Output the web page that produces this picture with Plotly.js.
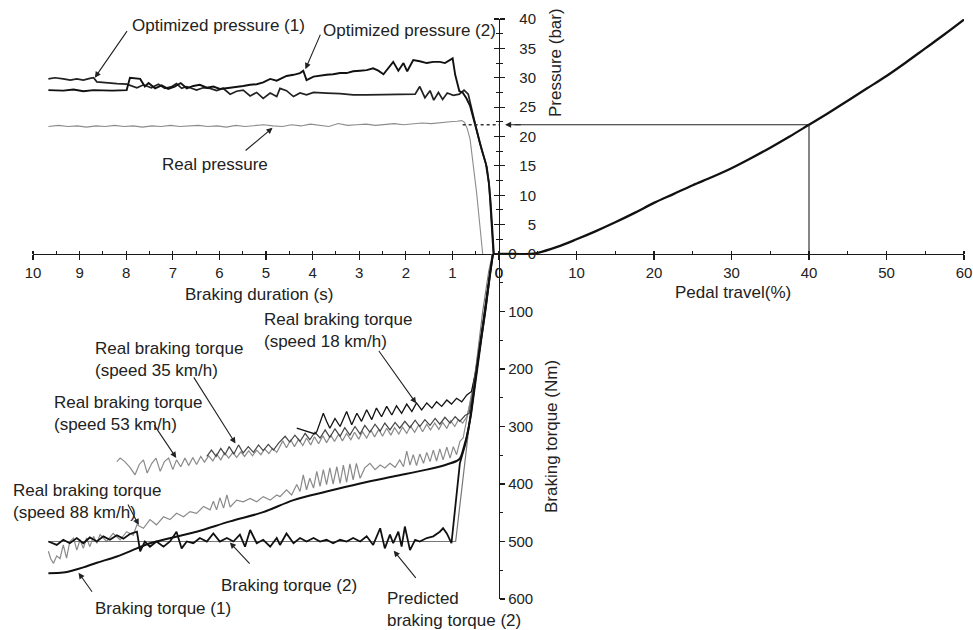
<!DOCTYPE html>
<html>
<head>
<meta charset="utf-8">
<script src="https://cdn.plot.ly/plotly-3.0.1.min.js"></script>
<style>html,body{margin:0;padding:0;background:#fff;}#chart{width:973px;height:630px;}</style>
</head>
<body>
<div id="chart"></div>
<script>
// ---------- DATA ----------
// Upper-left panel: pressure (bar) vs braking duration (s)
const optP1_t = [9.67,9.53,9.35,9.2,9.06,8.92,8.78,8.7,8.63,8.42,8.2,7.99,7.77,7.63,7.46,7.31,7.17,7.02,6.92,6.81,6.7,6.49,6.35,6.2,6.06,5.92,5.77,5.63,5.49,5.34,5.2,5.06,4.91,4.77,4.70,4.56,4.41,4.27,4.13,3.98,3.84,3.70,3.41,3.13,2.84,2.55,2.27,1.98,1.80,1.70,1.59,1.48,1.40,1.30,1.21,1.11,0.98,0.85,0.75,0.66,0.59,0.50,0.41,0.33,0.26,0.21,0.18,0.15,0.12];
const optP1_p = [29.8,30.0,29.8,29.6,29.8,29.6,29.9,30.0,29.3,29.1,29.0,28.9,28.3,28.8,28.3,28.9,28.2,28.5,29.0,28.2,28.5,27.9,28.3,28.2,27.8,28.2,27.2,27.7,27.9,26.9,27.5,26.5,27.4,26.8,28.2,27.8,26.8,27.4,27.1,27.5,27.4,27.4,27.3,27.1,27.1,27.1,27.1,27.1,27.2,28.5,26.6,27.8,26.2,27.5,26.3,27.4,27.0,27.2,27.9,27.2,24.6,21.8,18.8,16.8,14.8,11.5,8.0,4.5,0];
const optP2_t = [9.67,9.35,9.13,8.92,8.7,8.3,7.99,7.92,7.7,7.6,7.52,7.38,7.24,7.1,6.96,6.83,6.7,6.56,6.42,6.27,6.13,5.99,5.77,5.63,5.49,5.34,5.2,5.06,4.91,4.77,4.70,4.56,4.41,4.27,4.2,4.13,3.98,3.84,3.70,3.56,3.41,3.27,3.13,2.98,2.84,2.70,2.59,2.48,2.38,2.27,2.16,2.05,1.97,1.84,1.70,1.55,1.41,1.27,1.16,1.05,0.995,0.94,0.85,0.78,0.70,0.62,0.54,0.45,0.36,0.28,0.22,0.18,0.15,0.13,0.11];
const optP2_p = [27.9,27.8,28.0,27.7,27.9,27.8,27.9,30.0,29.8,28.5,29.1,28.2,28.7,28.1,28.5,29.1,28.2,28.6,28.8,28.3,28.5,28.1,28.3,28.4,28.6,28.8,28.9,29.2,29.8,29.5,29.8,30.3,30.5,30.8,31.2,29.6,30.2,30.4,30.5,30.6,30.8,30.8,31.1,31.2,31.3,31.6,31.2,30.6,31.7,32.7,31.2,32.5,31.1,33.0,32.8,32.5,32.7,32.7,32.5,33.0,33.3,30.5,27.7,27.5,26.5,25.2,22.8,19.8,17.5,15.3,12.3,8.8,5.0,2.0,0];
const realP_t = [9.67,9.45,9.25,9.05,8.85,8.65,8.45,8.25,8.05,7.85,7.65,7.45,7.25,7.05,6.85,6.65,6.45,6.25,6.05,5.85,5.65,5.45,5.25,5.05,4.85,4.65,4.45,4.25,4.05,3.85,3.65,3.45,3.25,3.05,2.85,2.65,2.45,2.25,2.05,1.85,1.65,1.45,1.25,1.05,0.9,0.8,0.74,0.68,0.62,0.56,0.48,0.41,0.35];
const realP_p = [21.7,21.9,21.7,21.8,21.6,21.8,21.7,21.9,21.7,21.8,21.6,21.8,21.7,21.9,21.7,21.8,21.9,21.7,21.8,21.6,21.9,21.7,21.8,22.0,21.8,21.7,22.0,21.8,22.1,21.9,21.7,22.2,21.9,22.0,22.1,21.9,22.1,22.2,22.0,22.2,22.3,22.2,22.4,22.5,22.6,22.7,22.4,21.3,19.5,16.0,10.4,4.8,0];
const dot_t = [0.78, 0];
const dot_p = [22, 22];

// Right panel: pressure (bar) vs pedal travel (%)
const pedal_x = [0,2,4,5,7.5,10,12.5,15,17.5,20,22.5,25,27.5,30,32.5,35,37.5,40,42.5,45,47.5,50,52.5,55,57.5,60];
const pedal_p = [0,0,0,0.2,1.2,2.5,3.9,5.4,7.0,8.7,10.2,11.7,13.1,14.6,16.3,18.1,20.0,22.0,24.0,26.1,28.2,30.3,32.6,35.0,37.4,39.9];
const refH_x = [2, 40];
const refH_p = [22, 22];
const refV_x = [40, 40];
const refV_p = [22, 0];

// Lower panel: braking torque (Nm) vs braking duration (s)
const r88_t = [9.67,9.62,9.56,9.49,9.42,9.35,9.28,9.21,9.13,9.06,8.99,8.92,8.85,8.78,8.70,8.63,8.56,8.42,8.28,8.13,7.99,7.85,7.77,7.63,7.49,7.35,7.20,7.06,6.92,6.77,6.63,6.49,6.34,6.20,6.13,6.06,5.99,5.91,5.84,5.77,5.63,5.49,5.34,5.20,5.06,4.91,4.77,4.70,4.56,4.45,4.34,4.27,4.20,4.13,4.06,3.98,3.91,3.84,3.77,3.70,3.63,3.56,3.48,3.41,3.34,3.27,3.20,3.13,3.06,2.98,2.88,2.77,2.66,2.55,2.45,2.34,2.23,2.13,2.05,1.98,1.91,1.84,1.77,1.70,1.62,1.55,1.48,1.41,1.34,1.27,1.20,1.12,1.05,0.98,0.91,0.84,0.77,0.68,0.58,0.48,0.38,0.28,0.20,0.14];
const r88_T = [517,530,538,525,530,506,529,500,494,515,497,512,494,509,491,503,488,500,486,497,483,489,471,477,462,471,457,462,451,457,448,451,439,445,430,445,424,442,419,440,428,431,425,431,422,428,419,422,410,419,401,413,384,410,390,407,378,404,375,401,372,400,370,399,367,397,365,393,364,390,372,364,375,367,372,364,371,358,370,343,367,349,368,348,364,345,361,341,360,339,358,336,355,335,349,326,320,285,240,190,135,80,35,0];
const r53_t = [8.20,8.13,8.03,7.92,7.81,7.72,7.63,7.55,7.45,7.36,7.27,7.18,7.09,7.00,6.92,6.83,6.74,6.66,6.57,6.49,6.40,6.32,6.23,6.14,6.06,5.97,5.89,5.80,5.71,5.63,5.54,5.46,5.37,5.29,5.20,5.11,5.03,4.94,4.86,4.77,4.73,4.64,4.56,4.47,4.39,4.30,4.21,4.13,4.04,3.96,3.87,3.78,3.70,3.61,3.53,3.44,3.36,3.27,3.18,3.10,3.01,2.93,2.84,2.75,2.67,2.58,2.50,2.41,2.32,2.24,2.15,2.07,1.98,1.90,1.81,1.72,1.64,1.55,1.47,1.38,1.29,1.21,1.12,1.04,0.95,0.87,0.78,0.69,0.62,0.55,0.46,0.37,0.28,0.20,0.14];
const r53_T = [361,355,361,371,384,366,358,381,364,355,378,361,355,375,358,370,355,368,354,366,352,362,351,360,348,358,346,355,345,354,344,352,342,351,341,349,339,347,338,345,339,325,337,323,335,322,333,320,332,318,330,316,328,315,326,313,325,312,323,310,322,309,320,306,318,305,317,303,315,302,313,301,312,299,310,297,309,296,306,294,305,293,303,290,300,288,294,283,260,230,185,135,85,40,0];
const r35_t = [6.27,6.17,6.07,5.97,5.88,5.79,5.69,5.59,5.49,5.38,5.27,5.16,5.06,4.95,4.84,4.73,4.59,4.49,4.38,4.27,4.16,4.06,3.95,3.84,3.73,3.63,3.52,3.41,3.31,3.20,3.09,2.98,2.88,2.77,2.66,2.55,2.45,2.34,2.23,2.13,2.02,1.91,1.80,1.70,1.59,1.48,1.37,1.27,1.16,1.05,0.94,0.84,0.73,0.64,0.58,0.50,0.42,0.34,0.26,0.19,0.13];
const r35_T = [352,341,352,338,349,335,348,332,346,335,345,332,342,331,341,329,317,327,315,326,312,323,310,320,306,319,304,317,302,315,300,313,298,310,296,308,294,306,293,303,291,302,289,300,288,298,286,296,284,294,283,291,281,277,250,215,170,120,70,30,0];
const r18_t = [4.34,3.95,3.91,3.77,3.70,3.63,3.52,3.41,3.27,3.16,3.05,2.95,2.84,2.73,2.63,2.52,2.41,2.30,2.20,2.09,1.98,1.87,1.77,1.66,1.55,1.44,1.34,1.23,1.12,1.02,0.91,0.80,0.69,0.59,0.50,0.42,0.34,0.26,0.19,0.13];
const r18_T = [303,313,309,277,291,303,286,300,274,297,277,291,271,288,268,283,265,280,264,277,261,274,259,271,259,268,257,265,254,261,251,257,245,239,205,165,118,70,30,0];
const bt1_t = [9.67,9.35,9.13,8.92,8.63,8.2,7.77,7.49,7.2,6.49,5.77,5.06,4.41,3.70,2.98,2.27,1.55,1.12,0.91,0.84,0.75,0.66,0.51,0.41,0.30,0.19,0.13];
const bt1_T = [555,554,550,545,537,526,512,503,497,483,465,449,428,413,399,387,375,366,360,356,335,306,219,161,103,33,0];
const bt2_t = [9.67,0.93,0.48,0.35,0.22,0.14];
const bt2_T = [500,500,187,100,30,0];
const pred_t = [9.67,9.49,9.35,9.21,9.06,8.92,8.78,8.63,8.49,8.35,8.20,8.06,7.92,7.77,7.70,7.60,7.49,7.35,7.20,7.06,6.92,6.81,6.70,6.56,6.42,6.27,6.13,5.99,5.84,5.70,5.56,5.45,5.34,5.20,5.06,4.91,4.77,4.70,4.56,4.41,4.27,4.13,3.98,3.84,3.70,3.56,3.41,3.27,3.13,2.98,2.84,2.70,2.55,2.45,2.34,2.27,2.16,2.09,2.02,1.91,1.80,1.70,1.55,1.41,1.27,1.20,1.12,1.02,0.84,0.72,0.60,0.50,0.40,0.30,0.20,0.13];
const pred_T = [500,506,497,503,494,503,493,500,491,497,489,495,487,483,517,500,509,500,509,500,483,512,500,503,494,500,486,500,494,500,488,509,480,503,497,509,494,506,486,503,494,500,494,500,497,503,497,500,494,500,491,506,477,512,488,503,483,509,474,515,497,500,494,491,483,477,486,503,364,330,280,220,160,100,40,0];

// Axis texts
const durationTitle = 'Braking duration (s)';
const pedalTitle = 'Pedal travel(%)';
const pressureTitle = 'Pressure (bar)';
const torqueTitle = 'Braking torque (Nm)';

// ---------- CHART ----------
const FONT = '"Liberation Sans", Arial, sans-serif';
const INK = '#1a1a1a';
const W = 973, H = 630;
const px = v => v / W;
const py = v => 1 - v / H;

function line(x, y, xa, ya, color, width, dash, shape) {
  return {x: x, y: y, xaxis: xa, yaxis: ya, type: 'scatter', mode: 'lines',
          line: {color: color, width: width, dash: dash || 'solid', shape: shape || 'linear'},
          hoverinfo: 'skip', showlegend: false};
}
// empty carrier traces so that the two helper pressure axes get drawn
function carrier(ya) {
  return {x: [], y: [], xaxis: 'x2', yaxis: ya, type: 'scatter', mode: 'lines',
          hoverinfo: 'skip', showlegend: false};
}

const traces = [
  carrier('y3'), carrier('y4'),
  line(realP_t, realP_p, 'x', 'y', '#8c8c8c', 1.1),
  line(optP1_t, optP1_p, 'x', 'y', '#222', 1.7),
  line(optP2_t, optP2_p, 'x', 'y', '#111', 1.9),
  line(dot_t, dot_p, 'x', 'y', '#333', 1.3, 'dot'),
  line(pedal_x, pedal_p, 'x2', 'y', '#111', 2.3, 'solid', 'spline'),
  line(refH_x, refH_p, 'x2', 'y', '#222', 1.1),
  line(refV_x, refV_p, 'x2', 'y', '#222', 1.1),
  line(r88_t, r88_T, 'x', 'y2', '#8a8a8a', 1.2),
  line(r53_t, r53_T, 'x', 'y2', '#8a8a8a', 1.2),
  line(r35_t, r35_T, 'x', 'y2', '#444', 1.2),
  line(r18_t, r18_T, 'x', 'y2', '#111', 1.3),
  line(bt2_t, bt2_T, 'x', 'y2', '#777', 1.2),
  line(bt1_t, bt1_T, 'x', 'y2', '#111', 2.0, 'solid', 'spline'),
  line(pred_t, pred_T, 'x', 'y2', '#111', 1.8)
];

const tickFont = {family: FONT, size: 15, color: '#222'};
const axBase = {showgrid: false, zeroline: false, showline: true, linecolor: INK, linewidth: 1.2,
  ticks: 'outside', ticklen: 5, tickwidth: 1.1, tickcolor: INK, tickfont: tickFont, fixedrange: true};

const labelFont = {family: FONT, size: 17, color: '#222'};
function txt(text, x, y, opts) {
  return Object.assign({text: text, x: px(x), y: py(y), xref: 'paper', yref: 'paper',
    showarrow: false, font: labelFont, xanchor: 'center', yanchor: 'middle'}, opts || {});
}
function arr(xr, yr, tipX, tipY, tailX, tailY) {
  return {text: '', x: tipX, y: tipY, xref: xr, yref: yr, axref: xr, ayref: yr,
    ax: tailX, ay: tailY, showarrow: true, arrowhead: 2, arrowsize: 1.1, arrowwidth: 1.1,
    arrowcolor: '#222', standoff: 3};
}

const annotations = [
  txt('Optimized pressure (1)', 218, 26),
  txt('Optimized pressure (2)', 409, 30),
  txt('Real pressure', 215, 165),
  txt(durationTitle, 259, 294),
  txt(pedalTitle, 733, 292),
  txt(pressureTitle, 556, 63, {textangle: -90}),
  txt(torqueTitle, 551, 437, {textangle: -90}),
  txt('Real braking torque<br>(speed 18 km/h)', 262, 330, {xanchor: 'left', align: 'left'}),
  txt('Real braking torque<br>(speed 35 km/h)', 93, 359, {xanchor: 'left', align: 'left'}),
  txt('Real braking torque<br>(speed 53 km/h)', 52, 413, {xanchor: 'left', align: 'left'}),
  txt('Real braking torque<br>(speed 88 km/h)', 11, 502, {xanchor: 'left', align: 'left'}),
  txt('Braking torque (2)', 289, 585),
  txt('Braking torque (1)', 163, 608),
  txt('Predicted<br>braking torque (2)', 385, 609, {xanchor: 'left', align: 'left'}),
  arr('x', 'y', 8.71, 29.6, 7.96, 38.2),
  arr('x', 'y', 4.18, 31.0, 3.82, 37.6),
  arr('x', 'y', 4.81, 21.8, 5.47, 17.4),
  arr('x2', 'y', 0.4, 22, 3.0, 22),
  arr('x', 'y2', 1.74, 264, 2.60, 166),
  arr('x', 'y2', 5.62, 334, 6.57, 212),
  arr('x', 'y2', 6.89, 359, 7.42, 295),
  arr('x', 'y2', 7.70, 476, 7.98, 433),
  arr('x', 'y2', 5.82, 498, 5.32, 541),
  arr('x', 'y2', 9.06, 550, 8.71, 590),
  arr('x', 'y2', 2.30, 512, 1.76, 566)
];

const layout = {
  width: W, height: H,
  margin: {l: 0, r: 0, t: 0, b: 0, pad: 0},
  paper_bgcolor: '#fff', plot_bgcolor: 'rgba(0,0,0,0)',
  showlegend: false,
  font: {family: FONT, color: '#222'},
  xaxis: Object.assign({}, axBase, {domain: [px(33), px(499)], range: [10, 0], anchor: 'y',
    dtick: 1, tick0: 0, minor: {dtick: 0.5, ticks: 'inside', ticklen: 3, tickcolor: INK}}),
  xaxis2: Object.assign({}, axBase, {domain: [px(499), px(964)], range: [0, 60], anchor: 'y',
    dtick: 10, tick0: 0, minor: {dtick: 5, ticks: 'inside', ticklen: 3, tickcolor: INK}}),
  yaxis: Object.assign({}, axBase, {domain: [py(254), py(19)], range: [0, 40], anchor: 'free',
    position: px(499), side: 'right', dtick: 5, showticklabels: false,
    minor: {dtick: 2.5, ticks: 'outside', ticklen: 3, tickcolor: INK}}),
  yaxis3: {overlaying: 'y', range: [0, 40], anchor: 'free', position: px(499), side: 'left',
    showline: false, showgrid: false, zeroline: false, ticks: 'outside', ticklen: 5, tickwidth: 1.1,
    tickcolor: INK, dtick: 5, showticklabels: false, fixedrange: true,
    minor: {dtick: 2.5, ticks: 'outside', ticklen: 3, tickcolor: INK}},
  yaxis4: {overlaying: 'y', range: [0, 40], anchor: 'free', position: px(536), side: 'left',
    showline: false, showgrid: false, zeroline: false, ticks: '', dtick: 5,
    showticklabels: true, tickfont: tickFont, fixedrange: true},
  yaxis2: Object.assign({}, axBase, {domain: [py(599), py(254)], range: [600, 0], anchor: 'free',
    position: px(499), side: 'right', dtick: 100, tick0: 0,
    minor: {dtick: 50, ticks: 'outside', ticklen: 3, tickcolor: INK}}),
  annotations: annotations
};

Plotly.newPlot('chart', traces, layout, {displayModeBar: false, staticPlot: true});
</script>
</body>
</html>
